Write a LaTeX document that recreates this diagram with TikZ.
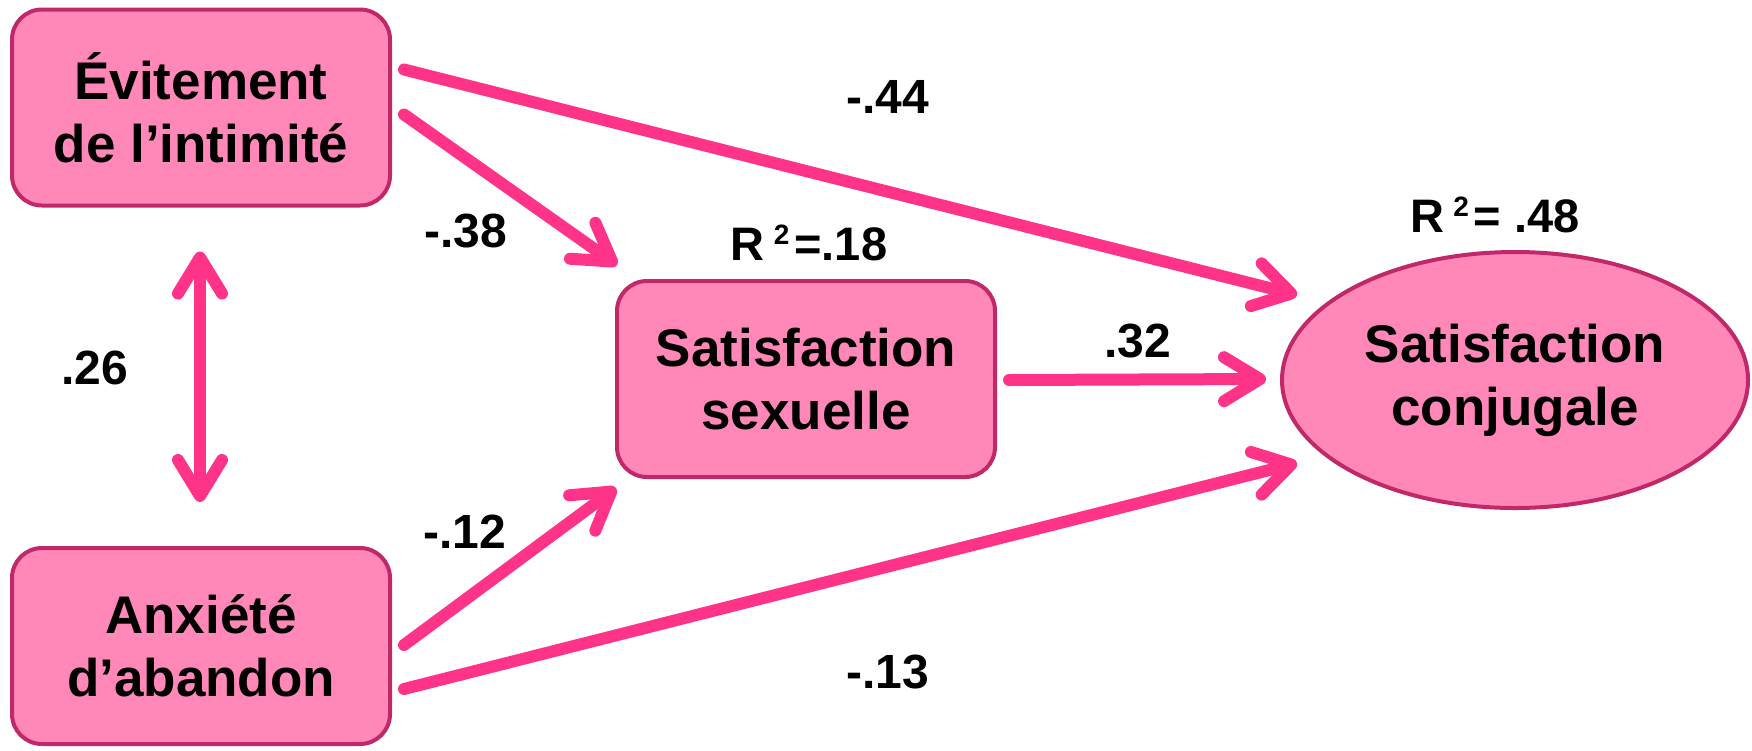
\documentclass[tikz,border=0pt]{standalone}
\usepackage{fontspec}
\setmainfont{Liberation Sans}
\usetikzlibrary{arrows.meta,shapes.geometric}
\definecolor{boxfill}{HTML}{FF88B8}
\definecolor{boxline}{HTML}{C0286A}
\definecolor{arr}{HTML}{FF3388}
\newcommand{\rsq}[1]{R\hspace{9pt}\raisebox{16pt}{\fontsize{28}{28}\selectfont 2}\hspace{5pt}#1}
\begin{document}
\begin{tikzpicture}[x=1pt,y=-1pt,
  box/.style={draw=boxline, line width=4pt, fill=boxfill, rounded corners=30pt,
    minimum width=378pt, minimum height=196pt, inner sep=0pt, align=center,
    font=\fontsize{53}{63}\selectfont\bfseries},
  oval/.style={ellipse, draw=boxline, line width=4pt, fill=boxfill,
    minimum width=466pt, minimum height=256pt, inner sep=0pt, align=center,
    font=\fontsize{53}{63}\selectfont\bfseries},
  conn/.style={draw=arr, line width=12pt, line cap=round,
    -{Straight Barb[length=36pt,width=44pt,round]}},
  dconn/.style={draw=arr, line width=12pt,
    {Straight Barb[length=36pt,width=44pt,round]}-{Straight Barb[length=36pt,width=44pt,round]}},
  lab/.style={font=\fontsize{48}{48}\selectfont\bfseries, inner sep=0pt},
  rlab/.style={font=\fontsize{47}{47}\selectfont\bfseries, inner sep=0pt, anchor=base}
]
\useasboundingbox (0,0) rectangle (1752,750);

\node[box] (ev) at (201,107.5) {Évitement\\de l’intimité};
\node[box] (ax) at (201,646) {Anxiété\\d’abandon};
\node[box] (ss) at (806,379) {Satisfaction\\sexuelle};
\node[oval] (sc) at (1515,380) {Satisfaction\\conjugale};

\node[rlab] (r1) at (809,260) {\rsq{=.18}};
\node[rlab] (r2) at (1495,232) {\rsq{= .48}};

\coordinate (e1) at ([shift={(12,-38)}]ev.east);
\coordinate (e2) at ([shift={(12,7)}]ev.east);
\coordinate (a1) at ([shift={(12,-1)}]ax.east);
\coordinate (a2) at ([shift={(12,43)}]ax.east);
\coordinate (s1) at ([shift={(12,1)}]ss.east);
\coordinate (t1) at ([shift={(-218,-85)}]sc.center);
\coordinate (t5) at ([shift={(-249,-1)}]sc.center);
\coordinate (t4) at ([shift={(-218,83)}]sc.center);
\coordinate (u2) at ([shift={(-189,-114)}]ss.center);
\coordinate (u3) at ([shift={(-190,109)}]ss.center);
\coordinate (v1) at ([shift={(-1,44)}]ev.south);
\coordinate (v2) at ([shift={(-1,-44)}]ax.north);

\draw[conn] (e1) -- (t1);
\draw[conn] (e2) -- (u2);
\draw[conn] (a1) -- (u3);
\draw[conn] (a2) -- (t4);
\draw[conn] (s1) -- (t5);
\draw[dconn] (v1) -- (v2);

\node[lab] (l44) at (888,97) {-.44};
\node[lab] (l38) at (466,231) {-.38};
\node[lab] (l26) at (95,368) {.26};
\node[lab] (l32) at (1138,341) {.32};
\node[lab] (l12) at (465,532) {-.12};
\node[lab] (l13) at (888,672) {-.13};
\end{tikzpicture}
\end{document}
